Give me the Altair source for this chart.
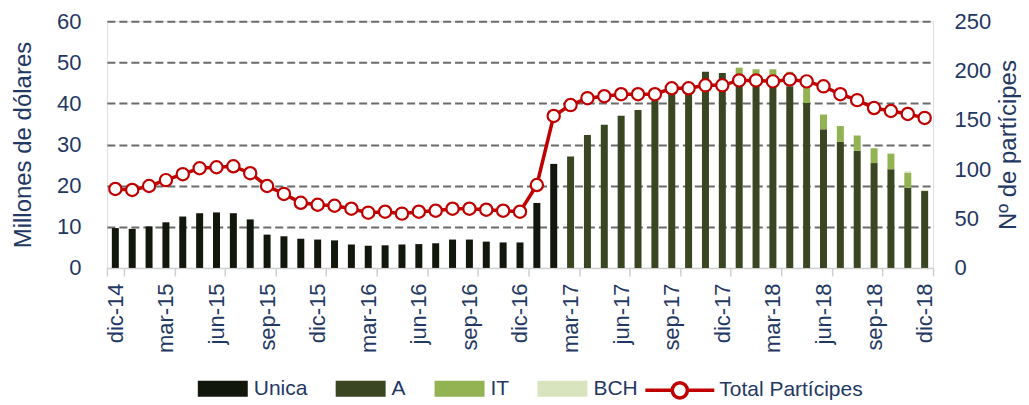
import altair as alt
import pandas as pd

months = [
    "dic-14", "ene-15", "feb-15", "mar-15", "abr-15", "may-15", "jun-15", "jul-15", "ago-15", "sep-15", "oct-15", "nov-15",
    "dic-15", "ene-16", "feb-16", "mar-16", "abr-16", "may-16", "jun-16", "jul-16", "ago-16", "sep-16", "oct-16", "nov-16",
    "dic-16", "ene-17", "feb-17", "mar-17", "abr-17", "may-17", "jun-17", "jul-17", "ago-17", "sep-17", "oct-17", "nov-17",
    "dic-17", "ene-18", "feb-18", "mar-18", "abr-18", "may-18", "jun-18", "jul-18", "ago-18", "sep-18", "oct-18", "nov-18",
    "dic-18",
]

unica = [9.7, 9.5, 10.1, 11.1, 12.5, 13.3, 13.5, 13.3, 11.8, 8.1, 7.7, 7.1,
         6.9, 6.7, 5.7, 5.4, 5.5, 5.7, 5.8, 6.0, 6.9, 6.9, 6.4, 6.2,
         6.2, 15.8, 25.3, 0, 0, 0, 0, 0, 0, 0, 0, 0,
         0, 0, 0, 0, 0, 0, 0, 0, 0, 0, 0, 0, 0]
serie_a = [0, 0, 0, 0, 0, 0, 0, 0, 0, 0, 0, 0,
           0, 0, 0, 0, 0, 0, 0, 0, 0, 0, 0, 0,
           0, 0, 0, 27.1, 32.3, 34.8, 37.0, 38.4, 40.8, 42.4, 43.8, 47.7,
           47.4, 46.2, 45.8, 45.8, 44.2, 40.1, 33.7, 30.7, 28.5, 25.5, 24.0, 19.5, 18.7]
serie_it = [0] * 37 + [2.5, 2.5, 2.5, 3.5, 3.9, 3.6, 3.8, 3.7, 3.6, 3.8, 3.6, 0]
serie_bch = [0] * 47 + [0.4, 0.3]

participes = [80, 79, 83, 89, 95, 101, 102, 103, 96, 83, 75, 66,
              64, 63, 60, 56, 57, 55, 57, 58, 60, 60, 59, 58,
              57, 84, 154, 165, 172, 174, 176, 176, 176, 182, 182, 185,
              185, 190, 190, 189, 191, 189, 184, 176, 170, 162, 159, 156, 152]

series = ["Unica", "A", "IT", "BCH"]
series_colors = ["#12170c", "#3a4621", "#93b251", "#d8e4bd"]
line_name = "Total Partícipes"
tick_months = months[::3]
left_ticks = [0, 10, 20, 30, 40, 50, 60]
right_ticks = [0, 50, 100, 150, 200, 250]

NAVY = "#1f3864"
FONT = "Liberation Sans"

rows = []
for i, m in enumerate(months):
    for k, (s, vals) in enumerate(zip(series, [unica, serie_a, serie_it, serie_bch])):
        if vals[i] > 0:
            rows.append({"mes": m, "serie": s, "valor": vals[i], "orden": k})
bars_df = pd.DataFrame(rows)
line_df = pd.DataFrame({"mes": months, "total": participes, "serie": [line_name] * len(months)})

x_enc = alt.X(
    "mes:N",
    sort=months,
    scale=alt.Scale(paddingInner=0, paddingOuter=0),
    axis=alt.Axis(
        values=tick_months, title=None, labelAngle=270, labelFontSize=22, labelColor=NAVY,
        labelPadding=7, tickBand="extent", tickSize=8, tickColor="#d0d0d0", tickWidth=1.5,
        domainColor="#d0d0d0", domainWidth=1.5, grid=False, labelFont=FONT,
    ),
)

bars = alt.Chart(bars_df).mark_bar(size=7).encode(
    x=x_enc,
    y=alt.Y(
        "valor:Q", stack="zero",
        scale=alt.Scale(domain=[0, 60], nice=False),
        axis=alt.Axis(
            values=left_ticks, grid=True, gridDash=[8, 4], gridColor="#6b6b6b", gridWidth=2,
            gridOpacity={"condition": {"test": "datum.value === 0", "value": 0}, "value": 1},
            domain=False, ticks=False, labelPadding=26, labelFontSize=22, labelColor=NAVY,
            title="Millones de dólares", titleFontSize=24, titleFontWeight="normal",
            titleColor=NAVY, titlePadding=21, labelFont=FONT, titleFont=FONT,
        ),
    ),
    color=alt.Color(
        "serie:N",
        scale=alt.Scale(domain=series, range=series_colors),
        legend=alt.Legend(
            orient="none", legendX=91, legendY=343, direction="horizontal", title=None,
            symbolType="M-1,-0.32L1,-0.32L1,0.32L-1,0.32Z", symbolSize=2500, symbolStrokeWidth=0,
            symbolOpacity=1, labelFontSize=21, labelColor=NAVY, labelOffset=6, columnPadding=28,
            labelFont=FONT,
        ),
    ),
    order=alt.Order("orden:Q", sort="ascending"),
)

y_right = alt.Y(
    "total:Q",
    scale=alt.Scale(domain=[0, 250], nice=False),
    axis=alt.Axis(
        orient="right", values=right_ticks, grid=False, domain=False, ticks=False,
        labelPadding=21, labelFontSize=22, labelColor=NAVY, title="Nº de partícipes",
        titleFontSize=24, titleFontWeight="normal", titleColor=NAVY, titleAngle=270,
        titleBaseline="top", titlePadding=6, labelFont=FONT, titleFont=FONT,
    ),
)

line = alt.Chart(line_df).mark_line(strokeWidth=3.5).encode(
    x=x_enc,
    y=y_right,
    stroke=alt.Stroke(
        "serie:N",
        scale=alt.Scale(domain=[line_name], range=["#c00000"]),
        legend=alt.Legend(
            orient="none", legendX=537, legendY=333, direction="horizontal", title=None,
            symbolType="M-1,0L-0.22,0M0.22,0L1,0M-0.22,0A0.22,0.22,0,1,1,0.22,0A0.22,0.22,0,1,1,-0.22,0",
            symbolSize=4761, symbolStrokeWidth=3.5, symbolFillColor="white",
            labelFontSize=21, labelColor=NAVY, labelOffset=3, labelFont=FONT,
        ),
    ),
)

points = alt.Chart(line_df).mark_point(
    filled=True, fill="white", stroke="#c00000", strokeWidth=2.2, size=150, opacity=1
).encode(
    x=x_enc,
    y=y_right,
)

chart = alt.layer(bars, alt.layer(line, points)).resolve_scale(
    y="independent", color="independent", stroke="independent"
).properties(
    width=827, height=247, padding={"left": 3, "top": 2, "right": 0, "bottom": 0}
).configure_view(stroke=None).configure(font=FONT)

chart.save("out.html", embed_options={"renderer": "svg", "actions": False})
